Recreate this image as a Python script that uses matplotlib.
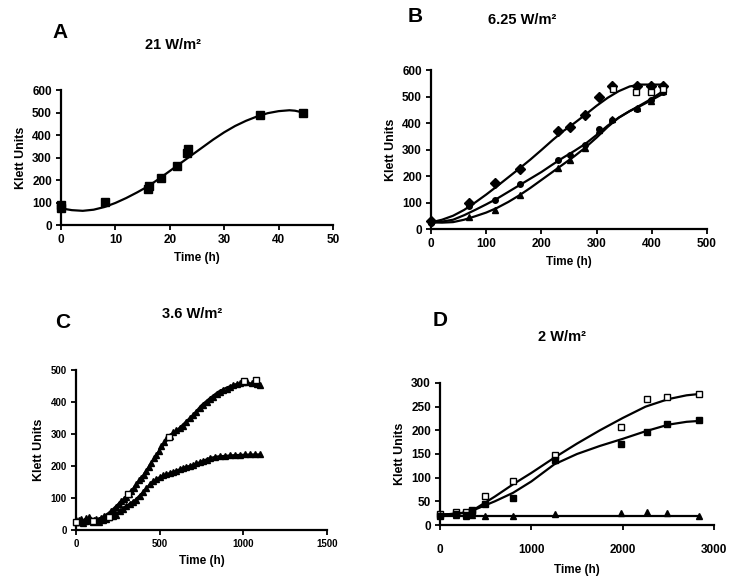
import matplotlib.pyplot as plt

plt.rcParams['font.family'] = ['Liberation Sans', 'DejaVu Sans']
plt.rcParams['font.weight'] = 'bold'
plt.rcParams['axes.labelweight'] = 'bold'

# ---- Panel A: 21 W/m2 ----
a_time = [0, 0, 8, 16, 16.2, 18.3, 21.3, 23.2, 23.3, 36.5, 44.5]
a_klett = [88, 75, 102, 160, 172, 208, 262, 320, 336, 488, 498]
a_fit_t = [0, 2, 4, 6, 8, 10, 12, 14, 16, 18, 20, 22, 24, 26, 28, 30, 32, 34, 36, 38, 40, 42, 43, 44.5]
a_fit_k = [74, 66, 63, 68, 80, 98, 120, 145, 172, 205, 240, 275, 310, 345, 380, 412, 440, 463, 482, 497, 506, 510, 508, 500]

# ---- Panel B: 6.25 W/m2 ----
b_time = [0, 68, 116, 161, 230, 251, 279, 305, 328, 373, 399, 421]
b_diamond = [29, 97, 172, 226, 370, 385, 429, 497, 541, 541, 541, 541]
b_circle = [22, 85, 110, 169, 260, 279, 316, 379, 412, 454, 487, 516]
b_triangle = [30, 47, 70, 129, 229, 260, 307, 372, 415, 458, 482, 522]
b_open_t = [330, 371, 399, 421]
b_open_k = [528, 516, 516, 530]
b_fit_t = [0, 20, 40, 60, 80, 100, 120, 140, 160, 180, 200, 220, 240, 260, 280, 300, 320, 340, 360, 380, 400, 420]
b_fit_top = [25, 35, 50, 72, 100, 130, 162, 195, 228, 262, 298, 335, 370, 400, 432, 465, 495, 520, 538, 545, 545, 545]
b_fit_mid = [25, 28, 35, 52, 72, 93, 115, 140, 165, 190, 215, 243, 270, 295, 322, 355, 390, 420, 445, 465, 487, 510]
b_fit_low = [25, 24, 26, 35, 48, 62, 80, 102, 127, 155, 185, 215, 245, 275, 308, 345, 385, 420, 445, 468, 492, 520]

# ---- Panel C: 3.6 W/m2 ----
c_up_t = [0, 15, 30, 45, 60, 75, 90, 105, 120, 135, 150, 165, 180, 195, 210, 225, 240, 255, 270, 285,
          300, 315, 330, 345, 360, 375, 390, 405, 420, 435, 450, 465, 480, 495, 510, 525, 545, 560, 580,
          600, 620, 640, 660, 680, 700, 720, 740, 760, 780, 800, 820, 840, 860, 880, 900, 920, 940, 960,
          980, 1000, 1020, 1050, 1080, 1100]
c_up_k = [30, 25, 35, 28, 38, 40, 32, 30, 35, 30, 38, 45, 42, 50, 60, 58, 72, 80, 90, 96,
          102, 112, 122, 130, 145, 155, 162, 171, 185, 198, 210, 225, 235, 248, 262, 275, 290, 295, 305,
          312, 318, 326, 338, 350, 360, 368, 380, 392, 400, 408, 415, 424, 432, 438, 440, 448, 452, 456,
          460, 461, 462, 458, 455, 452]
c_open_t = [0, 100, 200, 308, 557, 1004, 1078]
c_open_k = [25, 28, 40, 111, 292, 466, 468]
c_low_t = [0, 20, 40, 60, 80, 100, 120, 140, 160, 180, 200, 220, 240, 260, 280, 300, 320, 340, 360, 380,
           400, 420, 440, 460, 480, 500, 520, 540, 560, 580, 600, 620, 640, 660, 680, 700, 720, 740, 760,
           780, 800, 830, 860, 890, 920, 950, 980, 1010, 1040, 1070, 1100]
c_low_k = [25, 30, 22, 28, 30, 25, 28, 25, 30, 35, 40, 45, 48, 58, 66, 74, 80, 86, 95, 105,
           118, 130, 145, 152, 158, 165, 172, 175, 178, 182, 185, 190, 195, 198, 200, 203, 208, 212, 216,
           220, 225, 228, 230, 232, 233, 234, 235, 236, 236, 237, 236]
c_fit_t = [0, 100, 150, 200, 250, 300, 350, 400, 450, 500, 550, 600, 650, 700, 750, 800, 850, 900, 950, 1000, 1050, 1100]
c_fit_up = [30, 30, 38, 55, 80, 105, 135, 170, 210, 250, 285, 310, 335, 360, 390, 412, 432, 445, 455, 460, 458, 455]
c_fit_low = [28, 27, 30, 40, 55, 75, 92, 118, 148, 165, 176, 185, 196, 203, 214, 225, 230, 232, 234, 235, 236, 236]

# ---- Panel D: 2 W/m2 ----
d_time = [0, 180, 290, 350, 490, 800, 1260, 1980, 2270, 2490, 2840]
d_open = [24, 27, 28, 32, 62, 92, 148, 206, 266, 271, 276]
d_filled = [20, 24, 22, 30, 45, 58, 138, 172, 196, 213, 222]
d_triangle = [22, 22, 20, 22, 20, 18, 24, 25, 28, 25, 18]
d_fit_t = [0, 200, 300, 400, 500, 600, 800, 1000, 1250, 1500, 1750, 2000, 2250, 2500, 2700, 2850]
d_fit_open = [22, 24, 28, 36, 48, 60, 86, 110, 142, 172, 200, 226, 250, 266, 274, 277]
d_fit_filled = [22, 24, 27, 34, 42, 50, 68, 92, 128, 150, 167, 182, 198, 212, 218, 220]
d_fit_tri = [20, 20, 20, 20, 20, 20, 20, 20, 20, 20, 20, 20, 20, 20, 20, 20]

W, H = 729, 580
fig = plt.figure(figsize=(W / 100, H / 100), dpi=100)


def make_axes(left, right, top, bottom, fs=8.5):
    ax = fig.add_axes([left / W, 1 - bottom / H, (right - left) / W, (bottom - top) / H])
    for s in ['top', 'right']:
        ax.spines[s].set_visible(False)
    for s in ['left', 'bottom']:
        ax.spines[s].set_linewidth(1.6)
    ax.tick_params(direction='out', length=3.5, width=1.3, labelsize=fs, pad=3)
    ax.set_ylabel('Klett Units', fontsize=9)
    ax.set_xlabel('Time (h)', fontsize=8.5)
    return ax


line_kw = dict(color='black', lw=1.6, zorder=2)
mk = dict(ls='none', color='black', clip_on=False, zorder=3)

# A
ax = make_axes(61, 333, 90, 225)
ax.plot(a_fit_t, a_fit_k, **line_kw)
ax.plot(a_time, a_klett, marker='s', ms=6, **mk)
ax.set_xlim(0, 50)
ax.set_ylim(0, 600)
ax.set_xticks(range(0, 51, 10))
ax.set_yticks(range(0, 601, 100))

# B
ax = make_axes(431, 707, 70, 229)
ax.plot(b_fit_t, b_fit_top, **line_kw)
ax.plot(b_fit_t, b_fit_mid, **line_kw)
ax.plot(b_fit_t, b_fit_low, **line_kw)
ax.plot(b_time, b_diamond, marker='D', ms=5, **mk)
ax.plot(b_time, b_circle, marker='o', ms=4, **mk)
ax.plot(b_time, b_triangle, marker='^', ms=5, **mk)
ax.plot(b_open_t, b_open_k, marker='s', ms=4.5, mfc='white', mew=1, **mk)
ax.set_xlim(0, 500)
ax.set_ylim(0, 600)
ax.set_xticks(range(0, 501, 100))
ax.set_yticks(range(0, 601, 100))

# C
ax = make_axes(76, 327, 370, 530, fs=7)
ax.plot(c_fit_t, c_fit_up, **line_kw)
ax.plot(c_fit_t, c_fit_low, **line_kw)
ax.plot(c_up_t, c_up_k, marker='^', ms=5, **mk)
ax.plot(c_low_t, c_low_k, marker='^', ms=5, **mk)
ax.plot(c_open_t, c_open_k, marker='s', ms=4.5, mfc='white', mew=1, **mk)
ax.set_xlim(0, 1500)
ax.set_ylim(0, 500)
ax.set_xticks(range(0, 1501, 500))
ax.set_yticks(range(0, 501, 100))

# D
ax = make_axes(440, 714, 383, 525)
ax.plot(d_fit_t, d_fit_open, **line_kw)
ax.plot(d_fit_t, d_fit_filled, **line_kw)
ax.plot(d_fit_t, d_fit_tri, **line_kw)
ax.plot(d_time, d_open, marker='s', ms=5, mfc='white', mew=1, **mk)
ax.plot(d_time, d_filled, marker='s', ms=5, **mk)
ax.plot(d_time, d_triangle, marker='^', ms=5, **mk)
ax.set_xlim(0, 3000)
ax.set_ylim(0, 300)
ax.set_xticks(range(0, 3001, 1000))
ax.set_yticks(range(0, 301, 50))
ax.tick_params(axis='x', pad=10)
ax.xaxis.labelpad = 6

# panel letters and titles
letters = [('A', 60, 33), ('B', 415, 17), ('C', 63, 322), ('D', 440, 320)]
titles = [('21 W/m²', 173, 45), ('6.25 W/m²', 522, 20), ('3.6 W/m²', 192, 314), ('2 W/m²', 562, 337)]
for t, x, y in letters:
    fig.text(x / W, 1 - y / H, t, fontsize=15, fontweight='bold', ha='center', va='center')
for t, x, y in titles:
    fig.text(x / W, 1 - y / H, t, fontsize=10.5, fontweight='bold', ha='center', va='center')

fig.savefig('out.png', dpi=100)
